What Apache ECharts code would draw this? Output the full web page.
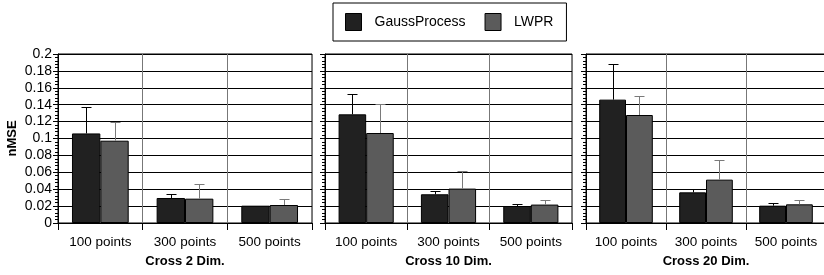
<!DOCTYPE html>
<html>
<head>
<meta charset="utf-8">
<script src="https://cdn.jsdelivr.net/npm/echarts@6/dist/echarts.min.js"></script>
<style>
	html, body { margin: 0; padding: 0; background: #fff; }
	#chart { width: 824px; height: 275px; }
</style>
</head>
<body>
<div id="chart"></div>
<script>
// categories and panels
var categories = ['100 points', '300 points', '500 points'];
var panelNames = ['Cross 2 Dim.', 'Cross 10 Dim.', 'Cross 20 Dim.'];

// nMSE values per panel
var gp2 = [0.106, 0.0296, 0.0205];
var lwpr2 = [0.0974, 0.0288, 0.0213];
var gp10 = [0.1286, 0.034, 0.0201];
var lwpr10 = [0.1065, 0.0407, 0.0218];
var gp20 = [0.146, 0.0363, 0.0205];
var lwpr20 = [0.1278, 0.0513, 0.0221];

// upper error (std) per panel
var gpErr2 = [0.031, 0.0044, 0];
var lwprErr2 = [0.022, 0.0177, 0.0075];
var gpErr10 = [0.0244, 0.004, 0.0024];
var lwprErr10 = [0.0348, 0.0208, 0.0059];
var gpErr20 = [0.0418, 0.004, 0.0028];
var lwprErr20 = [0.0222, 0.0229, 0.0055];

var gpList = [gp2, gp10, gp20];
var lwprList = [lwpr2, lwpr10, lwpr20];
var gpErrList = [gpErr2, gpErr10, gpErr20];
var lwprErrList = [lwprErr2, lwprErr10, lwprErr20];

var FONT = 'Liberation Sans, Arial, Helvetica, sans-serif';
var GP_COLOR = '#212121';
var LWPR_COLOR = '#5b5b5b';
var BAR_RATIO = 0.335;

var grids = [
	{left: 58, top: 54, width: 254, height: 169},
	{left: 325, top: 54, width: 247, height: 169},
	{left: 586, top: 54, width: 240, height: 169}
];

// error bar drawing, side -1 = left bar, 1 = right bar
function errRender(side, color) {
	return function(params, api) {
		var e = api.value(2);
		if (!e) return;
		var i = api.value(0);
		var v = api.value(1);
		var base = api.coord([i, v]);
		var top = api.coord([i, v + e]);
		var bw = api.size([1, 0])[0] * BAR_RATIO;
		var x = Math.round(base[0] + side * bw / 2) + 0.5;
		var ty = Math.round(top[1]) + 0.5;
		var style = {stroke: color, lineWidth: 1};
		return {
			type: 'group',
			children: [
				{type: 'line', shape: {x1: x, y1: base[1], x2: x, y2: ty}, style: style},
				{type: 'line', shape: {x1: x - 5, y1: ty, x2: x + 5, y2: ty}, style: style}
			]
		};
	};
}

var xAxes = [], yAxes = [], series = [];
for (var k = 0; k < 3; k++) {
	xAxes.push({
		type: 'category',
		gridIndex: k,
		data: categories,
		name: panelNames[k],
		nameLocation: 'middle',
		nameGap: 32,
		nameTextStyle: {fontFamily: FONT, fontSize: 13, fontWeight: 'bold', color: '#000'},
		axisLine: {lineStyle: {color: '#000', width: 1}},
		axisTick: {show: true, length: 7, lineStyle: {color: '#000'}},
		axisLabel: {fontFamily: FONT, fontSize: 13.5, color: '#000', margin: 12, interval: 0},
		splitLine: {show: true, lineStyle: {color: '#777', width: 1}}
	});
	yAxes.push({
		type: 'value',
		gridIndex: k,
		min: 0,
		max: 0.2,
		interval: 0.02,
		name: k === 0 ? 'nMSE' : '',
		nameLocation: 'middle',
		nameGap: 39,
		nameTextStyle: {fontFamily: FONT, fontSize: 13, fontWeight: 'bold', color: '#000'},
		axisLine: {show: true, lineStyle: {color: '#000', width: 1}},
		axisTick: {show: true, length: 5, lineStyle: {color: '#000'}},
		minorTick: {show: true, splitNumber: 5, length: 3, lineStyle: {color: '#000'}},
		axisLabel: {
			show: k === 0,
			fontFamily: FONT,
			fontSize: 14,
			color: '#000',
			margin: 6,
			formatter: function(v) { return String(parseFloat(v.toFixed(2))); }
		},
		splitLine: {show: true, lineStyle: {color: '#000', width: 1}}
	});
	series.push({
		name: 'GaussProcess',
		type: 'bar',
		xAxisIndex: k,
		yAxisIndex: k,
		barWidth: (BAR_RATIO * 100) + '%',
		barGap: '0%',
		data: gpList[k],
		itemStyle: {color: GP_COLOR, borderColor: '#000', borderWidth: 1},
		z: 3
	});
	series.push({
		name: 'LWPR',
		type: 'bar',
		xAxisIndex: k,
		yAxisIndex: k,
		barWidth: (BAR_RATIO * 100) + '%',
		barGap: '0%',
		data: lwprList[k],
		itemStyle: {color: LWPR_COLOR, borderColor: '#000', borderWidth: 1},
		z: 3
	});
	series.push({
		name: 'gpErr' + k,
		type: 'custom',
		xAxisIndex: k,
		yAxisIndex: k,
		renderItem: errRender(-1, '#000'),
		data: gpList[k].map(function(v, i) { return [i, v, gpErrList[k][i]]; }),
		encode: {x: 0, y: 1},
		z: 5
	});
	series.push({
		name: 'lwprErr' + k,
		type: 'custom',
		xAxisIndex: k,
		yAxisIndex: k,
		renderItem: errRender(1, '#7a7a7a'),
		data: lwprList[k].map(function(v, i) { return [i, v, lwprErrList[k][i]]; }),
		encode: {x: 0, y: 1},
		z: 5
	});
}

var myChart = echarts.init(document.getElementById('chart'));
var option = {
	animation: false,
	backgroundColor: '#fff',
	grid: grids.map(function(g) {
		return {left: g.left, top: g.top, width: g.width, height: g.height,
			outerBoundsMode: 'none', containLabel: false,
			show: true, borderColor: '#000', borderWidth: 1, backgroundColor: 'transparent'};
	}),
	legend: {
		data: [
			{name: 'GaussProcess', itemStyle: {color: GP_COLOR, borderColor: '#000', borderWidth: 1}},
			{name: 'LWPR', itemStyle: {color: LWPR_COLOR, borderColor: '#000', borderWidth: 1}}
		],
		left: 333,
		top: 3,
		icon: 'rect',
		itemWidth: 16,
		itemHeight: 17,
		itemGap: 19,
		padding: [10, 13, 10, 12],
		borderColor: '#000',
		borderWidth: 1,
		textStyle: {fontFamily: FONT, fontSize: 14, color: '#000', padding: [0, 0, 0, 8]}
	},
	xAxis: xAxes,
	yAxis: yAxes,
	series: series
};
myChart.setOption(option);
</script>
</body>
</html>
